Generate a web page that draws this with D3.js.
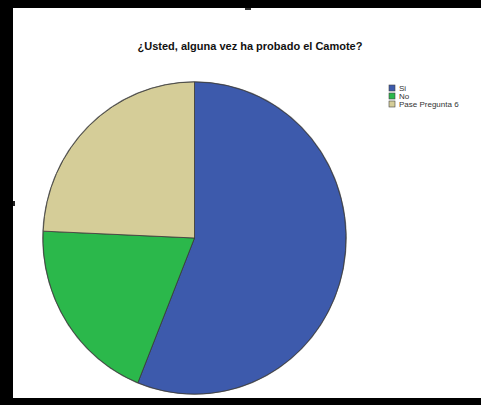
<!DOCTYPE html>
<html>
<head>
<meta charset="utf-8">
<script src="https://cdn.jsdelivr.net/npm/d3@7"></script>
<style>
  html, body { margin: 0; padding: 0; background: #fff; }
  svg { display: block; }
</style>
</head>
<body>
<svg id="chart" width="481" height="405"></svg>
<script>
// Survey answers (percent of respondents)
const categories = ["Si", "No", "Pase Pregunta 6"];
const values = [56.1, 19.6, 24.3];
const colors = ["#3d5aac", "#2bb84b", "#d5cd98"];
const title = "¿Usted, alguna vez ha probado el Camote?";

const svg = d3.select("#chart");
const W = 481, H = 405;

// frame
svg.append("rect").attr("x", 0).attr("y", 0).attr("width", W).attr("height", 8).attr("fill", "#000");
svg.append("rect").attr("x", 0).attr("y", 0).attr("width", 13).attr("height", H).attr("fill", "#000");
svg.append("rect").attr("x", 0).attr("y", 398).attr("width", W).attr("height", 7).attr("fill", "#000");
svg.append("rect").attr("x", 245).attr("y", 8).attr("width", 6).attr("height", 2).attr("fill", "#333");
svg.append("rect").attr("x", 13).attr("y", 201).attr("width", 2).attr("height", 5).attr("fill", "#222");

// title
svg.append("text")
  .attr("x", 250).attr("y", 50)
  .attr("text-anchor", "middle")
  .attr("font-family", "Liberation Sans, Arial, sans-serif")
  .attr("font-weight", "bold")
  .attr("font-size", 11)
  .attr("fill", "#111")
  .text(title);

// pie
const cx = 194.5, cy = 238, r = 151.5;
const pie = d3.pie().sort(null).value(d => d)(values);
const arc = d3.arc().innerRadius(0).outerRadius(r);

const defs = svg.append("defs");
defs.append("filter").attr("id", "soft")
  .attr("x", "-10%").attr("y", "-10%").attr("width", "120%").attr("height", "120%")
  .append("feGaussianBlur").attr("stdDeviation", 0.6);

const g = svg.append("g")
  .attr("transform", `translate(${cx},${cy}) scale(1,1.03)`);

g.append("circle").attr("r", r + 0.8).attr("fill", "#777").attr("filter", "url(#soft)");

g.selectAll("path.slice")
  .data(pie)
  .join("path")
  .attr("class", "slice")
  .attr("d", arc)
  .attr("fill", (d, i) => colors[i])
  .attr("stroke", "#3a3a3a")
  .attr("stroke-width", 0.8)
  .attr("vector-effect", "non-scaling-stroke");

// legend
const legend = svg.append("g").attr("transform", "translate(389,85)");
const rows = legend.selectAll("g").data(categories).join("g")
  .attr("transform", (d, i) => `translate(0,${i * 8})`);
rows.append("rect")
  .attr("width", 6).attr("height", 6)
  .attr("fill", (d, i) => colors[i])
  .attr("stroke", "#444").attr("stroke-width", 0.6);
rows.append("text")
  .attr("x", 10).attr("y", 6)
  .attr("font-family", "Liberation Sans, Arial, sans-serif")
  .attr("font-size", 8)
  .attr("fill", "#333")
  .text(d => d);
</script>
</body>
</html>
